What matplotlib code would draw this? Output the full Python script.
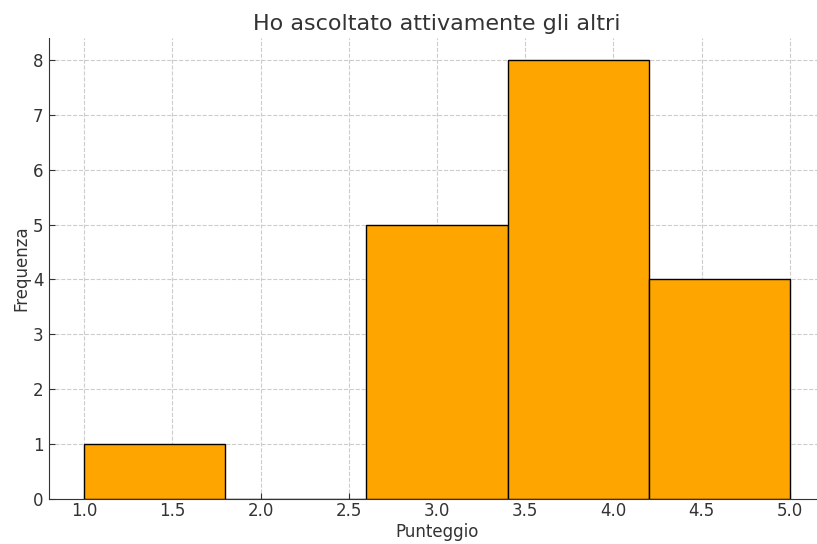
import matplotlib
matplotlib.use('Agg')
import matplotlib.pyplot as plt

# bin edges and counts
bin_edges = [1.0, 1.8, 2.6, 3.4, 4.2, 5.0]
counts = [1, 0, 5, 8, 4]

fig = plt.figure(figsize=(8.17, 5.44), dpi=100)
# the original figure is cropped on the right, so the axes run past the edge
ax = fig.add_axes([49 / 817, 45 / 544, 776 / 817, 461 / 544])

ax.hist(bin_edges[:-1], bins=bin_edges, weights=counts,
        color='orange', edgecolor='black', linewidth=1.0, zorder=2)

ax.set_xlim(0.8, 5.2)
ax.set_ylim(0, 8.4)
ax.set_xticks([1.0, 1.5, 2.0, 2.5, 3.0, 3.5, 4.0, 4.5, 5.0])
ax.set_yticks(range(0, 9))

ax.grid(True, linestyle='--', color='#cccccc', linewidth=0.8, zorder=0)
ax.set_axisbelow(True)
ax.spines['top'].set_visible(False)
ax.spines['right'].set_visible(False)
for s in ('left', 'bottom'):
    ax.spines[s].set_color('#333333')

ax.tick_params(direction='in', length=4, labelsize=12, colors='#333333')
ax.tick_params(axis='x', pad=2)
ax.tick_params(axis='y', pad=4)
ax.set_title('Ho ascoltato attivamente gli altri', fontsize=16,
             color='#333333', pad=6)
ax.set_xlabel('Punteggio', fontsize=12, color='#333333', labelpad=2)
ax.set_ylabel('Frequenza', fontsize=12, color='#333333', labelpad=2)

fig.savefig('out.png', dpi=100)
